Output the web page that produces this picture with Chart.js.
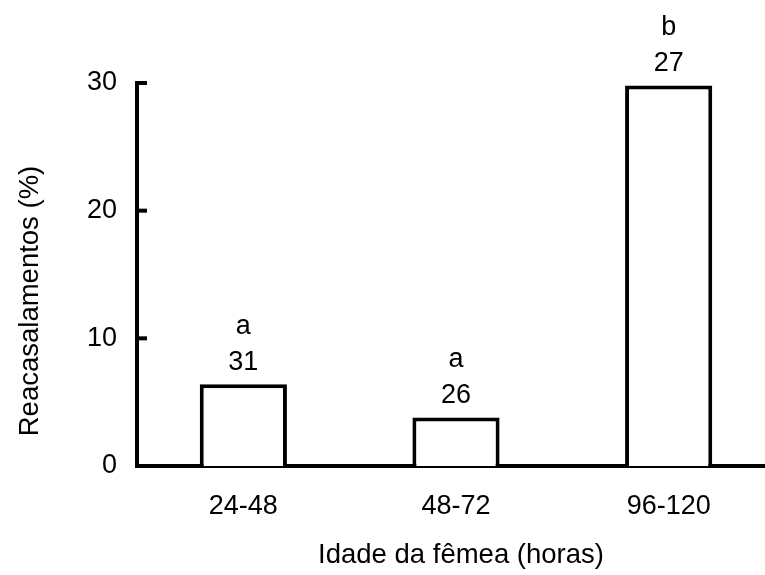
<!DOCTYPE html>
<html lang="pt">
<head>
<meta charset="UTF-8">
<title>Reacasalamentos</title>
<script src="https://cdn.jsdelivr.net/npm/chart.js"></script>
<style>
  html, body { margin: 0; padding: 0; background: #fff; overflow: hidden; }
  #chart { display: block; }
</style>
</head>
<body>
<canvas id="chart" width="775" height="575"></canvas>
<script>
// dados
const categories = ['24-48', '48-72', '96-120'];
const remating = [6.4, 3.8, 29.8];
const sampleSizes = ['31', '26', '27'];
const letters = ['a', 'a', 'b'];
const yTicks = [0, 10, 20, 30];

const FONT = "'Liberation Sans', Arial, sans-serif";

// marcas do eixo y para dentro + rótulos sobre as barras + títulos
const extras = {
  id: 'extras',
  afterDraw(chart) {
    const ctx = chart.ctx;
    const y = chart.scales.y;
    const left = chart.chartArea.left;
    ctx.save();
    ctx.strokeStyle = '#000';
    ctx.lineWidth = 4;
    y.ticks.forEach(t => {
      const py = y.getPixelForValue(t.value);
      ctx.beginPath();
      ctx.moveTo(left, py);
      ctx.lineTo(left + 10, py);
      ctx.stroke();
    });

    ctx.fillStyle = '#000';
    ctx.textAlign = 'center';
    ctx.textBaseline = 'middle';
    ctx.font = '27px ' + FONT;
    chart.getDatasetMeta(0).data.forEach((bar, i) => {
      ctx.fillText(sampleSizes[i], bar.x, bar.y - 22);
      ctx.fillText(letters[i], bar.x, bar.y - 58);
    });

    ctx.font = '27.5px ' + FONT;
    ctx.fillText('Idade da fêmea (horas)', 461, 555);
    ctx.translate(30, 301);
    ctx.rotate(-Math.PI / 2);
    ctx.fillText('Reacasalamentos (%)', 0, 0);
    ctx.restore();
  }
};

new Chart(document.getElementById('chart'), {
  type: 'bar',
  data: {
    labels: categories,
    datasets: [{
      data: remating,
      backgroundColor: '#fff',
      borderColor: '#000',
      borderWidth: 4,
      borderSkipped: 'start',
      categoryPercentage: 1,
      barPercentage: 0.41
    }]
  },
  options: {
    responsive: false,
    animation: false,
    layout: { padding: { top: 83, left: 0, right: 0, bottom: 0 } },
    plugins: { legend: { display: false }, tooltip: { enabled: false } },
    scales: {
      x: {
        grid: { display: false, drawTicks: false, tickLength: 0 },
        border: { display: true, color: '#000', width: 4 },
        ticks: { color: '#000', font: { family: FONT, size: 27 }, padding: 24, maxRotation: 0 },
        afterFit(s) { s.height = 109; }
      },
      y: {
        min: 0,
        max: 30,
        afterBuildTicks(s) { s.ticks = yTicks.map(v => ({ value: v })); },
        grid: { display: false, drawTicks: false, tickLength: 0 },
        border: { display: true, color: '#000', width: 4 },
        ticks: { color: '#000', font: { family: FONT, size: 27 }, padding: 20 },
        afterFit(s) { s.width = 137; }
      }
    }
  },
  plugins: [extras]
});
</script>
</body>
</html>
